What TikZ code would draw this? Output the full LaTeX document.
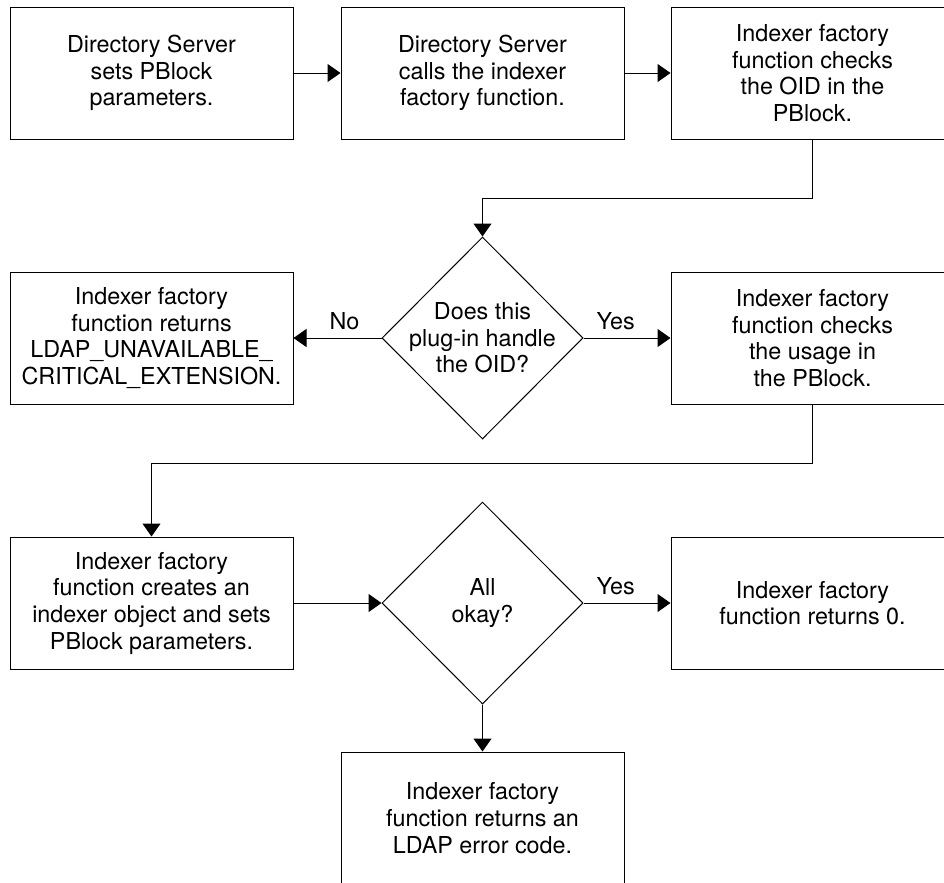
\documentclass[tikz,border=0pt]{standalone}
\usepackage{fontspec}
\setmainfont{TeX Gyre Heros}
\usetikzlibrary{arrows.meta,shapes.geometric}

\begin{document}
\begin{tikzpicture}[x=0.75pt,y=-0.75pt,line width=0.75pt,
  every node/.style={font=\fontsize{17.5}{20}\selectfont}]
\tikzstyle{box}=[draw,align=center,inner sep=0pt,minimum width=212.25pt,minimum height=99pt]
\tikzstyle{decide}=[draw,diamond,shape aspect=1,inner sep=0pt,minimum width=150.75pt,minimum height=151.5pt]
\tikzstyle{flow}=[-{Triangle[length=9.75pt,width=13.5pt]}]
\tikzstyle{lbl}=[above,inner sep=6pt]

\useasboundingbox (0,0) rectangle (944,882);
\clip (0,0) rectangle (944,882);

\node[box] (sets) at (151.5,73) {Directory Server\\sets PBlock\\parameters.};
\node[box] (calls) at (482.5,73) {Directory Server\\calls the indexer\\factory function.};
\node[box] (chkoid) at (812.5,73) {Indexer factory\\function checks\\the OID in the\\PBlock.};

\node[decide,label={[align=center]center:Does this\\plug-in handle\\the OID?}] (oid) at (482.5,338) {};
\node[box] (unavail) at (151.5,338) {Indexer factory\\function returns\\LDAP\_UNAVAILABLE\_\\CRITICAL\_EXTENSION.};
\node[box] (chkuse) at (812.5,338) {Indexer factory\\function checks\\the usage in\\the PBlock.};

\node[box] (create) at (151.5,603) {Indexer factory\\function creates an\\indexer object and sets\\PBlock parameters.};
\node[decide,label={[align=center]center:All\\okay?}] (okay) at (482.5,603) {};
\node[box] (ret0) at (812.5,603) {Indexer factory\\function returns 0.};

\node[box] (err) at (482.5,818) {Indexer factory\\function returns an\\LDAP error code.};

\draw[flow] (sets) -- (calls);
\draw[flow] (calls) -- (chkoid);
\draw[flow] (chkoid.south) -- ++(0,59) -| (oid.north);
\draw[flow] (oid.west) -- node[lbl,pos=.42] {No} (unavail.east);
\draw[flow] (oid.east) -- node[lbl,pos=.37] {Yes} (chkuse.west);
\draw[flow] (chkuse.south) -- ++(0,59) -| (create.north);
\draw[flow] (create.east) -- (okay.west);
\draw[flow] (okay.east) -- node[lbl,pos=.37] {Yes} (ret0.west);
\draw[flow] (okay.south) -- (err.north);
\end{tikzpicture}
\end{document}
